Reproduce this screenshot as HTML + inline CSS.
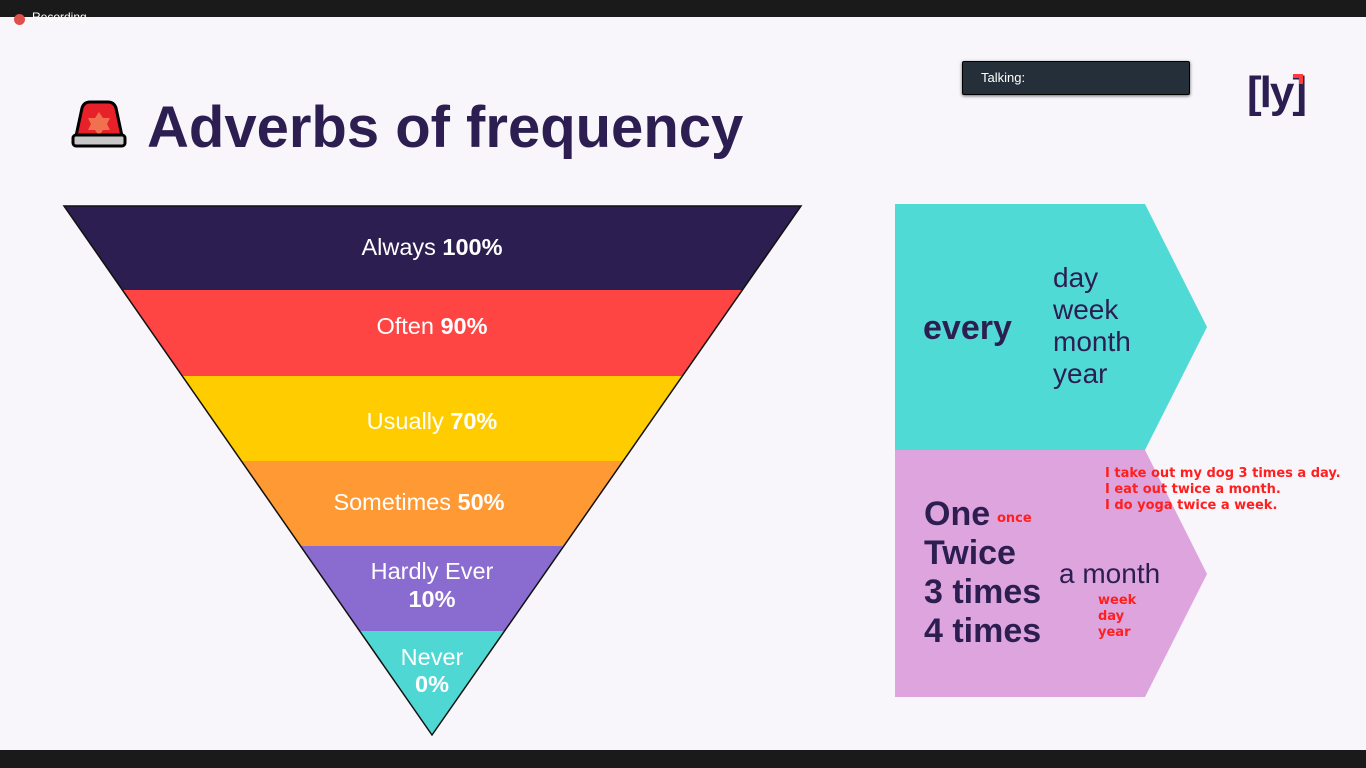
<!DOCTYPE html>
<html><head><meta charset="utf-8"><style>
body{margin:0;width:1366px;height:768px;background:#f8f6fa;position:relative;overflow:hidden;font-family:"Liberation Sans",sans-serif}
.a{position:absolute;white-space:nowrap}
.bar{position:absolute;left:0;width:1366px;background:#1a1a1a}
.d{color:#2d1e52}
.r{color:#ff1f1f;font-family:"DejaVu Sans",sans-serif;font-weight:bold;font-size:13px;line-height:16px}
</style></head><body>
<div class="bar" style="top:0;height:17px"></div>
<div class="bar" style="top:750px;height:18px"></div>
<div class="a" style="left:14px;top:14px;width:11px;height:11px;border-radius:50%;background:#e0504a"></div>
<div class="a" style="left:32px;top:10px;color:#fff;font-size:12px">Recording</div>
<div class="a" style="left:962px;top:61px;width:226px;height:32px;background:#252f3a;border:1px solid #000;border-radius:2px;box-shadow:0 1px 3px #666"></div>
<div class="a" style="left:981px;top:70px;color:#fff;font-size:13px">Talking:</div>
<div class="a d" style="left:1247px;top:68px;font-size:44px;font-weight:bold;letter-spacing:-2px">[ly]</div>
<div class="a" style="left:1293px;top:74px;width:10px;height:4px;background:#ff3b3b"></div>
<div class="a" style="left:1299px;top:74px;width:4px;height:10px;background:#ff3b3b"></div>
<svg class="a" style="left:70px;top:100px" width="60" height="50">
<path d="M12 8 Q14 2 20 2 H38 Q44 2 46 8 L52 36 H6 Z" fill="#e8202a" stroke="#000" stroke-width="3"/>
<path d="M29 12 l4 6 7 0 -3 6 3 6 -7 0 -4 6 -4 -6 -7 0 3 -6 -3 -6 7 0z" fill="#f07050"/>
<rect x="3" y="35" width="52" height="11" rx="3" fill="#c8c8c8" stroke="#000" stroke-width="3"/>
</svg>
<div class="a d" style="left:147px;top:94px;font-size:58px;font-weight:bold">Adverbs of frequency</div>
<svg class="a" style="left:0;top:0" width="1366" height="768">
<defs><clipPath id="t"><polygon points="64,206 801,206 432,735"/></clipPath></defs>
<g clip-path="url(#t)">
<rect x="0" y="206" width="900" height="84" fill="#2d1e52"/>
<rect x="0" y="290" width="900" height="86" fill="#ff4444"/>
<rect x="0" y="376" width="900" height="85" fill="#ffcc00"/>
<rect x="0" y="461" width="900" height="85" fill="#ff9933"/>
<rect x="0" y="546" width="900" height="85" fill="#8a6bcf"/>
<rect x="0" y="631" width="900" height="110" fill="#4fd8d3"/>
</g>
<polygon points="64,206 801,206 432,735" fill="none" stroke="#111" stroke-width="1.5"/>
<polygon points="895,204 1145,204 1207,327 1145,450 895,450" fill="#50dad6"/>
<polygon points="895,450 1145,450 1207,574 1145,697 895,697" fill="#dda4dd"/>
<g fill="#fff" font-family="Liberation Sans" font-size="23.5" text-anchor="middle">
<text x="432" y="255">Always <tspan font-weight="bold">100%</tspan></text>
<text x="432" y="334">Often <tspan font-weight="bold">90%</tspan></text>
<text x="432" y="429">Usually <tspan font-weight="bold">70%</tspan></text>
<text x="419" y="510">Sometimes <tspan font-weight="bold">50%</tspan></text>
<text x="432" y="579">Hardly Ever</text>
<text x="432" y="607" font-weight="bold">10%</text>
<text x="432" y="665">Never</text>
<text x="432" y="692" font-weight="bold">0%</text>
</g>
</svg>
<div class="a d" style="left:923px;top:309px;font-size:34px;font-weight:bold">every</div>
<div class="a d" style="left:1053px;top:262px;font-size:28px;line-height:32px">day<br>week<br>month<br>year</div>
<div class="a d" style="left:924px;top:495px;font-size:34px;font-weight:bold;line-height:39px">One<br>Twice<br>3 times<br>4 times</div>
<div class="a d" style="left:1059px;top:558px;font-size:28px">a month</div>
<div class="a r" style="left:997px;top:511px">once</div>
<div class="a r" style="left:1098px;top:593px">week<br>day<br>year</div>
<div class="a r" style="left:1105px;top:466px">I take out my dog 3 times a day.<br>I eat out twice a month.<br>I do yoga twice a week.</div>
</body></html>
